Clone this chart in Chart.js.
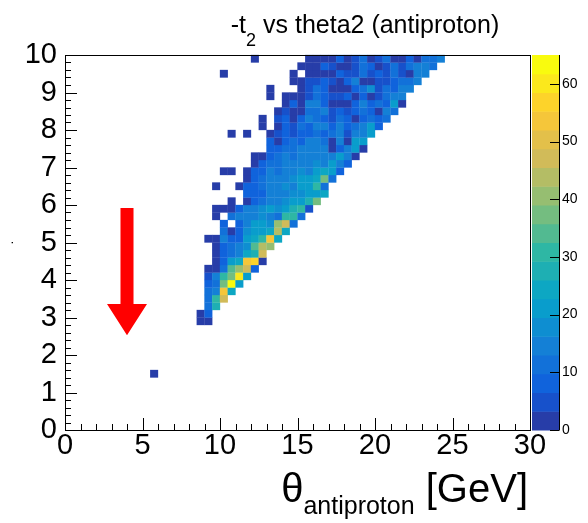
<!DOCTYPE html>
<html><head><meta charset="utf-8">
<script src="https://cdn.jsdelivr.net/npm/chart.js@4/dist/chart.umd.min.js"></script>
<style>html,body{margin:0;padding:0;background:#fff;}#wrap{width:588px;height:523px;}</style>
</head><body><div id="wrap"><canvas id="c" width="588" height="523"></canvas></div>
<script>
// ---- text ----
const titleParts = ['-t', '2', ' vs theta2 (antiproton)'];
const xTitleParts = ['\u03b8', 'antiproton', ' [GeV]'];
const yTitleText = '.';
// ---- ticks ----
const xTicks = [0, 5, 10, 15, 20, 25, 30];
const yTicks = [0, 1, 2, 3, 4, 5, 6, 7, 8, 9, 10];
const zTicks = [0, 10, 20, 30, 40, 50, 60];
// ---- histogram binning ----
const xBin = 0.5, yBin = 0.2;
const zMax = 65, nLevels = 20;
// ---- histogram rows: lower y edge, x of first cell, counts per 0.5-wide cell ----
const rowY = [1.4, 2.8, 3.0, 3.2, 3.4, 3.6, 3.8, 4.0, 4.2, 4.4, 4.6, 4.8, 5.0, 5.2, 5.4, 5.6, 5.8, 6.0, 6.2, 6.4, 6.6, 6.8, 7.0, 7.2, 7.4, 7.6, 7.8, 8.0, 8.2, 8.4, 8.6, 8.8, 9.0, 9.2, 9.4, 9.6, 9.8];
const rowX0 = [5.5, 8.5, 8.5, 9.0, 9.0, 9.0, 9.0, 9.0, 9.0, 9.5, 9.5, 9.5, 9.0, 10.0, 10.0, 9.5, 9.5, 10.5, 11.5, 9.5, 11.5, 10.0, 12.0, 12.0, 13.0, 13.0, 10.5, 12.5, 12.5, 13.5, 14.0, 13.0, 13.0, 14.5, 10.0, 15.0, 12.0];
const rowCounts = [
  [2],
  [2, 2],
  [3, 9],
  [11, 28],
  [10, 30, 46],
  [10, 16, 55, 24],
  [8, 12, 38, 64, 22],
  [6, 14, 30, 38, 60, 20],
  [3, 3, 12, 34, 40, 46, 9],
  [3, 9, 20, 24, 52, 56, 3],
  [2, 7, 12, 16, 24, 26, 46],
  [3, 9, 10, 16, 18, 33, 44, 40],
  [2, 3, 16, 9, 9, 20, 24, 30, 55, 24],
  [10, 3, 9, 18, 20, 22, 24, 44, 24],
  [9, 0, 9, 16, 20, 22, 18, 42, 46, 12],
  [2, 0, 12, 14, 16, 16, 18, 14, 10, 30, 32, 12],
  [2, 2, 3, 9, 14, 16, 18, 20, 18, 22, 26, 30, 5],
  [2, 0, 3, 9, 10, 14, 16, 18, 20, 22, 28, 38],
  [9, 9, 9, 14, 16, 16, 18, 18, 20, 22, 24],
  [2, 0, 0, 2, 9, 9, 12, 14, 16, 18, 16, 20, 22, 30, 10],
  [2, 9, 12, 14, 16, 14, 18, 20, 22, 24, 38, 10],
  [2, 2, 0, 2, 9, 9, 14, 12, 16, 14, 18, 16, 20, 24, 22, 9],
  [2, 9, 12, 12, 14, 16, 14, 16, 18, 15, 22, 16, 9],
  [2, 2, 9, 12, 14, 12, 16, 14, 16, 15, 16, 22, 16, 3],
  [9, 9, 12, 12, 14, 16, 14, 16, 3, 9, 15, 22, 2],
  [9, 2, 9, 10, 9, 15, 16, 10, 3, 14, 3, 22, 22],
  [2, 0, 2, 0, 0, 2, 4, 9, 4, 9, 9, 10, 9, 10, 14, 4, 14, 15, 22],
  [2, 0, 2, 9, 5, 10, 9, 14, 15, 9, 14, 9, 10, 14, 22, 9],
  [2, 0, 5, 9, 3, 9, 13, 12, 9, 5, 10, 9, 3, 9, 10, 9, 10],
  [2, 5, 3, 3, 10, 12, 13, 4, 9, 5, 9, 10, 9, 3, 14, 10],
  [2, 9, 3, 14, 14, 9, 3, 3, 3, 9, 13, 9, 10, 9, 20, 3],
  [2, 0, 2, 3, 3, 5, 10, 9, 5, 4, 9, 3, 9, 3, 5, 10, 14, 14],
  [2, 0, 0, 0, 3, 5, 10, 9, 3, 3, 3, 9, 10, 18, 5, 10, 9, 14, 14],
  [2, 2, 4, 5, 9, 5, 3, 9, 14, 3, 3, 4, 5, 9, 10, 12, 14],
  [2, 0, 0, 0, 0, 0, 0, 0, 0, 2, 0, 2, 3, 3, 3, 9, 4, 5, 10, 5, 9, 5, 10, 5, 3, 14, 14],
  [2, 2, 3, 9, 5, 3, 3, 5, 10, 9, 3, 5, 10, 5, 10, 14, 14, 10],
  [2, 0, 0, 0, 0, 0, 0, 2, 2, 2, 3, 9, 3, 5, 10, 3, 5, 10, 3, 3, 9, 3, 10, 10, 14]
];
// ---- annotation arrow (data coordinates) ----
const arrowX = 4.0, arrowTop = 5.92, arrowHead = 3.36, arrowTip = 2.53, arrowShaft = 0.42, arrowHalfHead = 1.29;

// kBird palette
const birdStops = [0.0, 0.125, 0.25, 0.375, 0.5, 0.625, 0.75, 0.875, 1.0];
const birdR = [0.2082, 0.0592, 0.0780, 0.0232, 0.1802, 0.5301, 0.8186, 0.9956, 0.9764];
const birdG = [0.1664, 0.3599, 0.5041, 0.6419, 0.7178, 0.7492, 0.7328, 0.7862, 0.9832];
const birdB = [0.5293, 0.8684, 0.8385, 0.7914, 0.6425, 0.4662, 0.3499, 0.1968, 0.0539];
function birdAt(t) {
  let i = 0;
  while (i < birdStops.length - 2 && t > birdStops[i + 1]) i++;
  const f = (t - birdStops[i]) / (birdStops[i + 1] - birdStops[i]);
  const c = a => Math.round(255 * (a[i] + f * (a[i + 1] - a[i])));
  return `rgb(${c(birdR)},${c(birdG)},${c(birdB)})`;
}
function levelColor(k) {
  const idx = Math.floor((k + 0.99) * 255 / nLevels);
  return birdAt(Math.min(idx, 254) / 254);
}
function colorFor(v) {
  const k = Math.max(0, Math.min(nLevels - 1, Math.floor(v / (zMax / nLevels))));
  return levelColor(k);
}

const points = [];
rowY.forEach((y, r) => rowCounts[r].forEach((v, k) => {
  if (v > 0) points.push({ x: rowX0[r] + (k + 0.5) * xBin, y: y + yBin / 2, v });
}));

const FONT = '"Liberation Sans", Arial, Helvetica, sans-serif';

const drawPlugin = {
  id: 'rootStyle',
  afterDatasetsDraw(chart) {
    const ctx = chart.ctx;
    const xs = chart.scales.x, ys = chart.scales.y, zs = chart.scales.z;
    const ca = chart.chartArea;
    // cells
    const meta = chart.getDatasetMeta(0);
    const w = Math.abs(xs.getPixelForValue(xBin) - xs.getPixelForValue(0));
    const h = Math.abs(ys.getPixelForValue(yBin) - ys.getPixelForValue(0));
    ctx.save();
    meta.data.forEach((el, i) => {
      ctx.fillStyle = colorFor(points[i].v);
      ctx.fillRect(el.x - w / 2 - 0.15, el.y - h / 2 - 0.15, w + 0.3, h + 0.3);
    });
    // arrow
    const P = (x, y) => [xs.getPixelForValue(x), ys.getPixelForValue(y)];
    const poly = [P(arrowX - arrowShaft, arrowTop), P(arrowX + arrowShaft, arrowTop), P(arrowX + arrowShaft, arrowHead),
      P(arrowX + arrowHalfHead, arrowHead), P(arrowX, arrowTip), P(arrowX - arrowHalfHead, arrowHead), P(arrowX - arrowShaft, arrowHead)];
    ctx.fillStyle = '#ff0000';
    ctx.beginPath();
    poly.forEach((p, i) => i ? ctx.lineTo(p[0], p[1]) : ctx.moveTo(p[0], p[1]));
    ctx.closePath(); ctx.fill();
    // frame
    ctx.strokeStyle = '#000'; ctx.lineWidth = 1;
    ctx.strokeRect(Math.round(ca.left) + 0.5, Math.round(ca.top) + 0.5, Math.round(ca.right - ca.left), Math.round(ca.bottom - ca.top));
    // axis ticks (inside)
    ctx.beginPath();
    for (let m = 0; m <= 30; m++) {
      const px = Math.round(xs.getPixelForValue(m)) + 0.5;
      const len = m % 5 === 0 ? 12 : 6;
      ctx.moveTo(px, ca.bottom); ctx.lineTo(px, ca.bottom - len);
    }
    for (let m = 0; m <= 50; m++) {
      const py = Math.round(ys.getPixelForValue(m * yBin)) + 0.5;
      const len = m % 5 === 0 ? 12 : 6;
      ctx.moveTo(ca.left, py); ctx.lineTo(ca.left + len, py);
    }
    ctx.stroke();
    // colour bar
    const bl = ca.right + 2, br = ca.right + 29;
    for (let k = 0; k < nLevels; k++) {
      const y0 = zs.getPixelForValue(k * zMax / nLevels), y1 = zs.getPixelForValue((k + 1) * zMax / nLevels);
      ctx.fillStyle = levelColor(k);
      ctx.fillRect(bl, y1, br - bl, y0 - y1 + 0.5);
    }
    ctx.beginPath();
    ctx.moveTo(br + 0.5, zs.getPixelForValue(0)); ctx.lineTo(br + 0.5, zs.getPixelForValue(zMax));
    zTicks.forEach(v => { const py = Math.round(zs.getPixelForValue(v)) + 0.5; ctx.moveTo(br - 9, py); ctx.lineTo(br + 0.5, py); });
    ctx.stroke();
    // title
    ctx.fillStyle = '#000'; ctx.textBaseline = 'alphabetic'; ctx.textAlign = 'left';
    const tBig = '25px ' + FONT, tSmall = '18px ' + FONT;
    ctx.font = tBig; const w1 = ctx.measureText(titleParts[0]).width, w3 = ctx.measureText(titleParts[2]).width;
    ctx.font = tSmall; const w2 = ctx.measureText(titleParts[1]).width;
    let tx = 365 - (w1 + w2 + w3) / 2;
    ctx.font = tBig; ctx.fillText(titleParts[0], tx, 33); tx += w1;
    ctx.font = tSmall; ctx.fillText(titleParts[1], tx, 46); tx += w2;
    ctx.font = tBig; ctx.fillText(titleParts[2], tx, 33);
    // x axis title, right aligned to the frame
    const aBig = '40px ' + FONT, aSmall = '25px ' + FONT;
    ctx.font = aBig; const a1 = ctx.measureText(xTitleParts[0]).width, a3 = ctx.measureText(xTitleParts[2]).width;
    ctx.font = aSmall; const a2 = ctx.measureText(xTitleParts[1]).width;
    let ax = ca.right - 2 - (a1 + a2 + a3);
    ctx.font = aBig; ctx.fillText(xTitleParts[0], ax, 502); ax += a1;
    ctx.font = aSmall; ctx.fillText(xTitleParts[1], ax, 514); ax += a2;
    ctx.font = aBig; ctx.fillText(xTitleParts[2], ax, 502);
    ctx.restore();
  }
};

new Chart(document.getElementById('c'), {
  type: 'scatter',
  data: { datasets: [{ data: points, pointRadius: 0, pointHoverRadius: 0, borderWidth: 0 }] },
  options: {
    responsive: false, animation: false, events: [],
    layout: { padding: { top: 55, bottom: 53, left: 0, right: 0 } },
    plugins: { legend: { display: false }, tooltip: { enabled: false }, title: { display: false } },
    scales: {
      x: {
        type: 'linear', position: 'bottom', min: 0, max: 30,
        afterBuildTicks: s => { s.ticks = xTicks.map(v => ({ value: v })); },
        ticks: { autoSkip: false, maxRotation: 0, color: '#000', padding: 1, font: { family: FONT, size: 29, lineHeight: 1 } },
        grid: { display: false, drawTicks: false }, border: { display: false },
        afterFit: s => { s.height = 40; }
      },
      y: {
        type: 'linear', position: 'left', min: 0, max: 10,
        afterBuildTicks: s => { s.ticks = yTicks.map(v => ({ value: v })); },
        ticks: { autoSkip: false, color: '#000', padding: 8, font: { family: FONT, size: 29, lineHeight: 1 } },
        grid: { display: false, drawTicks: false }, border: { display: false },
        title: { display: true, text: yTitleText, color: '#000', font: { family: FONT, size: 12 }, padding: { top: 2, bottom: 0 } },
        afterFit: s => { s.width = 65; }
      },
      z: {
        axis: 'y', type: 'linear', position: 'right', min: 0, max: zMax,
        afterBuildTicks: s => { s.ticks = zTicks.map(v => ({ value: v })); },
        ticks: { autoSkip: false, color: '#000', padding: 32, font: { family: FONT, size: 14, lineHeight: 1 } },
        grid: { display: false, drawTicks: false }, border: { display: false },
        afterFit: s => { s.width = 58; }
      }
    }
  },
  plugins: [drawPlugin]
});
</script></body></html>
